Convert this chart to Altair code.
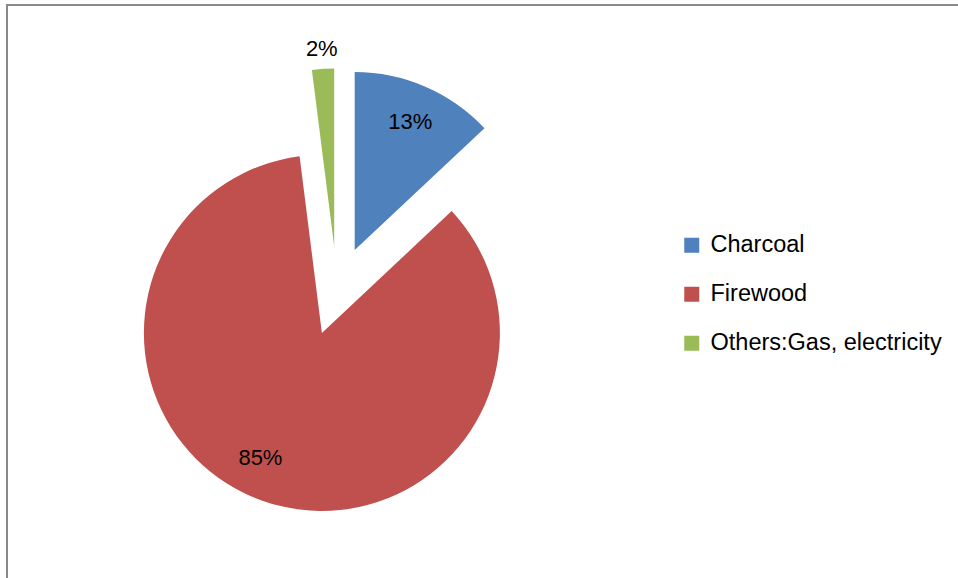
import altair as alt
import pandas as pd

categories = ["Charcoal", "Firewood", "Others:Gas, electricity"]
shares = [13, 85, 2]
labels = ["13%", "85%", "2%"]
colors = ["#4F81BD", "#C0504D", "#9BBB59"]

df = pd.DataFrame({
    "cat": categories,
    "val": shares,
    "lbl": labels,
    "idx": list(range(len(categories))),
})

CX, CY, EXPLODE, R = 337, 291, 44.6, 178
FONT = "Liberation Sans"

base = (
    alt.Chart(df)
    .transform_joinaggregate(total="sum(val)")
    .transform_window(cum="sum(val)", sort=[alt.SortField("idx")], frame=[None, 0])
    .transform_calculate(
        t0="2*PI*(datum.cum - datum.val)/datum.total",
        t1="2*PI*datum.cum/datum.total",
    )
    .transform_calculate(mid="(datum.t0 + datum.t1)/2")
    .transform_calculate(
        cx=f"{CX} + {EXPLODE}*sin(datum.mid)",
        cy=f"{CY} - {EXPLODE}*cos(datum.mid)",
        lr=f"datum.val < 5 ? {R} + 20 : 0.785*{R}",
        la="datum.val > 50 ? datum.mid + 0.11 : datum.mid",
    )
    .transform_calculate(
        lx="datum.cx + datum.lr*sin(datum.la)",
        ly="datum.cy - datum.lr*cos(datum.la)",
    )
)

arcs = base.mark_arc(radius=R, strokeWidth=0).encode(
    x=alt.X("cx:Q", scale=None),
    y=alt.Y("cy:Q", scale=None),
    theta=alt.Theta("t0:Q", scale=None),
    theta2="t1:Q",
    color=alt.Color(
        "cat:N",
        scale=alt.Scale(domain=categories, range=colors),
        legend=alt.Legend(
            title=None,
            orient="none",
            legendX=680,
            legendY=233.5,
            padding=0,
            symbolType="square",
            symbolSize=225,
            symbolStrokeWidth=0,
            labelFontSize=23.5,
            labelFont=FONT,
            labelColor="#000000",
            labelOffset=7,
            rowPadding=24,
            labelLimit=400,
        ),
    ),
)

texts = base.mark_text(font=FONT, fontSize=22, color="#000000", align="center", baseline="middle").encode(
    x=alt.X("lx:Q", scale=None),
    y=alt.Y("ly:Q", scale=None),
    text="lbl:N",
)

top_line = alt.Chart(df).mark_rule(color="#898989", strokeWidth=2).encode(
    x=alt.value(6), x2=alt.value(958), y=alt.value(5)
)
left_line = alt.Chart(df).mark_rule(color="#898989", strokeWidth=2).encode(
    x=alt.value(7), y=alt.value(4), y2=alt.value(578)
)

chart = (
    alt.layer(top_line, left_line, arcs, texts)
    .properties(width=958, height=578, autosize=alt.AutoSizeParams(type="none"), padding=0, background="white")
    .configure_view(stroke=None)
)

chart.save("out.html", embed_options={"renderer": "svg", "actions": False})
